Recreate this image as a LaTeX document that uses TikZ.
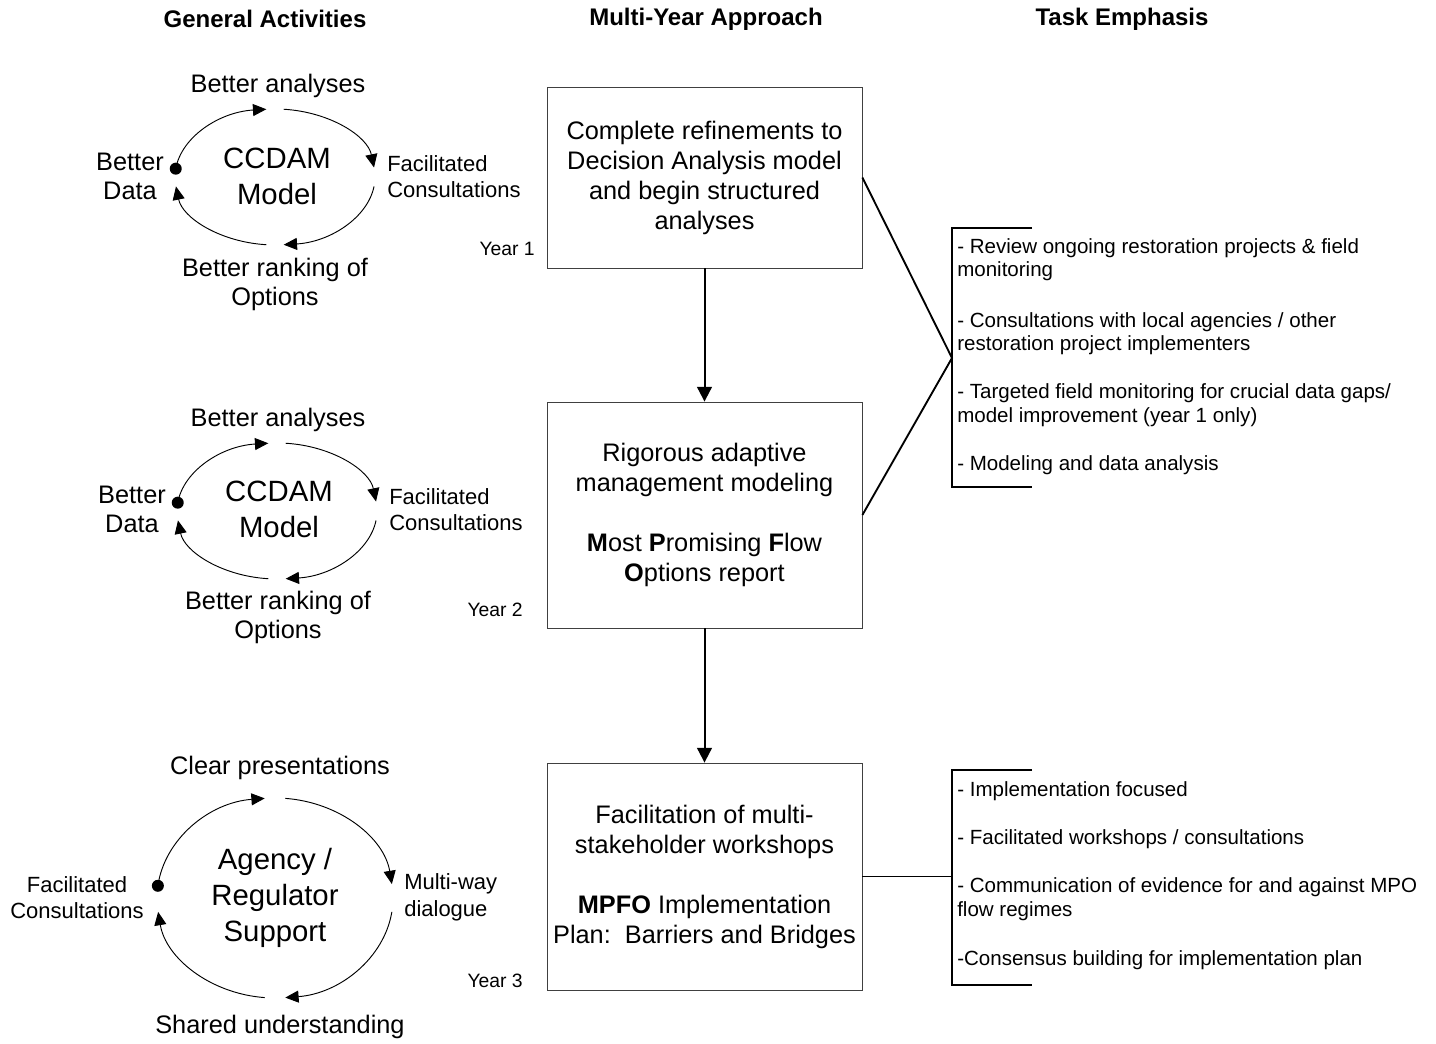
\documentclass[tikz,border=0pt]{standalone}
\usepackage{fontspec}
\setmainfont{Liberation Sans}
\usetikzlibrary{arrows.meta}

% four arcs with a dot, round a centre: centre, x radius, y radius
\newcommand{\drawcycle}[3]{%
  \draw[cyc, ->] (#1) ++(173:#2 and #3) arc[start angle=173, end angle=95, x radius=#2, y radius=#3];
  \draw[cyc, ->] (#1) ++(85:#2 and #3) arc[start angle=85, end angle=8, x radius=#2, y radius=#3];
  \draw[cyc, ->] (#1) ++(-8:#2 and #3) arc[start angle=-8, end angle=-85, x radius=#2, y radius=#3];
  \draw[cyc, ->] (#1) ++(-95:#2 and #3) arc[start angle=-95, end angle=-172, x radius=#2, y radius=#3];
  \fill (#1) ++(173:#2 and #3) circle(4.5pt);
}

\begin{document}
\begin{tikzpicture}[x=0.75pt, y=0.75pt,
    >={Triangle[length=10pt, width=9pt]},
    head/.style={font=\fontsize{18}{22}\selectfont\bfseries},
    box/.style={draw=black!75, line width=0.6pt, minimum width=236.25pt, align=center,
                font=\fontsize{19}{22.5}\selectfont},
    lbl/.style={align=center, inner sep=0, font=\fontsize{19}{21.75}\selectfont},
    big/.style={align=center, inner sep=0, font=\fontsize{22}{27}\selectfont},
    small/.style={inner sep=0, font=\fontsize{16.5}{20}\selectfont},
    year/.style={anchor=east, inner sep=0, font=\fontsize{14.5}{17}\selectfont},
    task/.style={anchor=west, inner sep=0, font=\fontsize{15.4}{17.25}\selectfont},
    cyc/.style={line width=0.7pt},
    conn/.style={line width=1.5pt, -{Triangle[length=11pt, width=11pt]}},
    brk/.style={line width=1.4pt}]
\useasboundingbox (0,0) rectangle (1436,1044);

% column heads
\node[head] (hgen) at (265,1025) {General Activities};
\node[head] (hmulti) at (706,1025) {Multi-Year Approach};
\node[head] (htask) at (1122,1025) {Task Emphasis};

% multi-year boxes
\node[box, minimum height=135.75pt] (yr1) at (704.5,866.5)
  {Complete refinements to\\Decision Analysis model\\and begin structured\\analyses};
\node[box, minimum height=169.5pt] (yr2) at (704.5,529)
  {Rigorous adaptive\\management modeling\\[22.5pt]\textbf{M}ost \textbf{P}romising \textbf{F}low\\\textbf{O}ptions report};
\node[box, minimum height=170.25pt] (yr3) at (704.5,167.5)
  {Facilitation of multi-\\stakeholder workshops\\[22.5pt]\textbf{MPFO} Implementation\\Plan:\ \ Barriers and Bridges};
\draw[conn] (yr1) -- (yr2);
\draw[conn] (yr2) -- (yr3);

\node[year] (y1) at (535,795) {Year 1};
\node[year] (y2) at (523,434) {Year 2};
\node[year] (y3) at (523,63) {Year 3};

% task emphasis brackets
\coordinate (apex) at (952,686);
\draw[brk] (yr1.east) -- (apex) -- (yr2.east);
\draw[brk] (1032,816) -- (952,816) -- (952,557) -- (1032,557);
\coordinate (hub) at (952,167.5);
\draw[brk] (yr3.east) -- (hub);
\draw[brk] (1032,274) -- (952,274) -- (952,59) -- (1032,59);

\foreach \y/\t [count=\i] in {796/{- Review ongoing restoration projects \& field},
    773/{monitoring}, 722/{- Consultations with local agencies / other},
    699/{restoration project implementers},
    651/{- Targeted field monitoring for crucial data gaps/},
    627/{model improvement (year 1 only)}, 579/{- Modeling and data analysis},
    253/{- Implementation focused}, 205/{- Facilitated workshops / consultations},
    157/{- Communication of evidence for and against MPO}, 133/{flow regimes},
    84/{-Consensus building for implementation plan}}
  \node[task] (t\i) at (957,\y) {\t};

% cycle 1
\coordinate (c1) at (275,867);
\drawcycle{c1}{100}{68}
\node[big] (m1) at (277,868) {CCDAM\\Model};
\node[lbl] (a1) at (278,958) {Better analyses};
\node[lbl] (d1) at (130,868) {Better\\Data};
\node[small, anchor=west, align=left] (f1) at (387,867.5) {Facilitated\\Consultations};
\node[lbl] (r1) at (275,759.5) {Better ranking of\\Options};

% cycle 2
\coordinate (c2) at (277,533);
\drawcycle{c2}{100}{68}
\node[big] (m2) at (279,535) {CCDAM\\Model};
\node[lbl] (a2) at (278,624) {Better analyses};
\node[lbl] (d2) at (132,535) {Better\\Data};
\node[small, anchor=west, align=left] (f2) at (389,534.5) {Facilitated\\Consultations};
\node[lbl] (r2) at (278,426.5) {Better ranking of\\Options};

% cycle 3
\coordinate (c3) at (275,146);
\drawcycle{c3}{118}{100}
\node[big] (m3) at (275,146) {Agency /\\Regulator\\Support};
\node[lbl] (a3) at (280,276) {Clear presentations};
\node[small, align=center] (f3) at (77,146.5) {Facilitated\\Consultations};
\node[small, anchor=west, align=left] (w3) at (404,146.5) {Multi-way\\dialogue};
\node[lbl] (s3) at (280,17) {Shared understanding};
\end{tikzpicture}
\end{document}
